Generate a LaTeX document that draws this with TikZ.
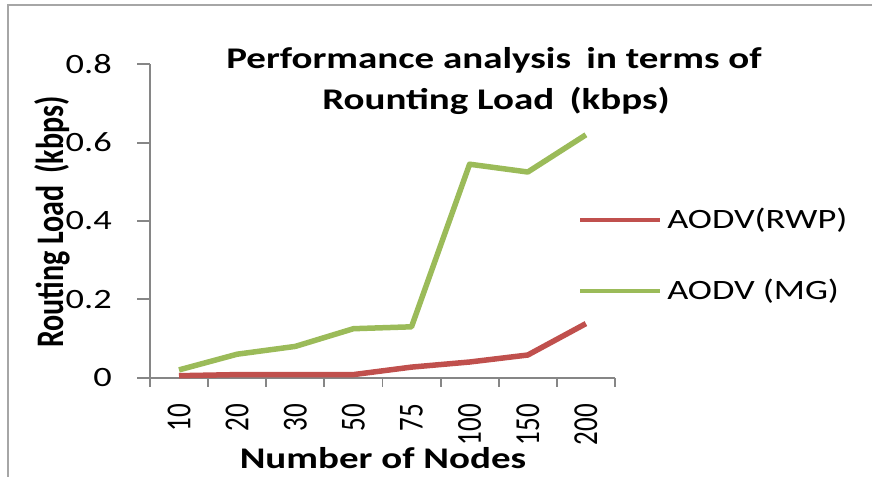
\documentclass[tikz,border=0pt]{standalone}
\usepackage{fontspec}
\setmainfont{Carlito}
\usetikzlibrary{positioning}

\definecolor{rwpred}{HTML}{C0504D}
\definecolor{mggreen}{HTML}{9BBB59}
\definecolor{axisgray}{HTML}{868686}

\begin{document}
\begin{tikzpicture}
[x=1pt,y=-1pt,
frame/.style={draw=gray!70,line width=1.5pt},
axisline/.style={draw=axisgray,line width=1.8pt},
wide/.style={xscale=1.3,inner sep=0pt},
ylab/.style={wide,anchor=east,font=\fontsize{28}{32}\selectfont},
xlab/.style={wide,rotate=90,anchor=east,font=\fontsize{27}{30}\selectfont},
heading/.style={wide,font=\bfseries\fontsize{30}{34}\selectfont},
series/.style={line width=5.5pt,line join=round},
legendtext/.style={wide,anchor=west,font=\fontsize{28}{32}\selectfont}]
\useasboundingbox (0,0) rectangle (872,477);
\draw[frame] (872,5) -- (8,5) -- (8,477);
% title
\node[heading] (title) at (494,60) {Performance analysis\, in terms of};
\node[heading] (title2) at (496,101) {Rounting Load\, (kbps)};
% axes
\coordinate (origin) at (150,378);
\coordinate (ytop) at (150,64);
\coordinate (xend) at (615,378);
\draw[axisline] (ytop) -- (origin) -- (xend);
\foreach \k/\v in {0/0,1/0.2,2/0.4,3/0.6,4/0.8}{
  \draw[axisline] (137,377.7-78.35*\k) -- (150,377.7-78.35*\k);
  \node[ylab] (yl\k) at (112,377.7-78.35*\k) {\v};
}
\foreach \i/\n in {0/10,1/20,2/30,3/50,4/75,5/100,6/150,7/200}{
  \draw[axisline] (150+58.125*\i,378) -- (150+58.125*\i,387);
  \node[xlab] (xl\i) at (179+58.125*\i,404) {\n};
}
\draw[axisline] (615,378) -- (615,387);
\node[heading,rotate=90] (yname) at (52,222) {Routing Load\, (kbps)};
\node[heading] (xname) at (383,458) {Number of Nodes};
% data
\draw[series,rwpred] plot coordinates {(179,375.7) (237.1,374.6) (295.3,374.6) (353.4,374.6)
  (411.5,367.1) (469.6,362.0) (527.8,355.0) (585.9,323.6)};
\draw[series,mggreen] plot coordinates {(179,369.9) (237.1,354.2) (295.3,346.4) (353.4,328.7)
  (411.5,326.8) (469.6,164.2) (527.8,172.0) (585.9,134.8)};
% legend
\coordinate (rwpa) at (580,220);
\coordinate (rwpb) at (660,220);
\coordinate (mga) at (580,291);
\coordinate (mgb) at (660,291);
\draw[series,rwpred,line width=4pt] (rwpa) -- (rwpb);
\draw[series,mggreen,line width=4pt] (mga) -- (mgb);
\node[legendtext] (rwp) at (667,220) {AODV(RWP)};
\node[legendtext] (mg) at (667,291) {AODV (MG)};
\end{tikzpicture}
\end{document}
